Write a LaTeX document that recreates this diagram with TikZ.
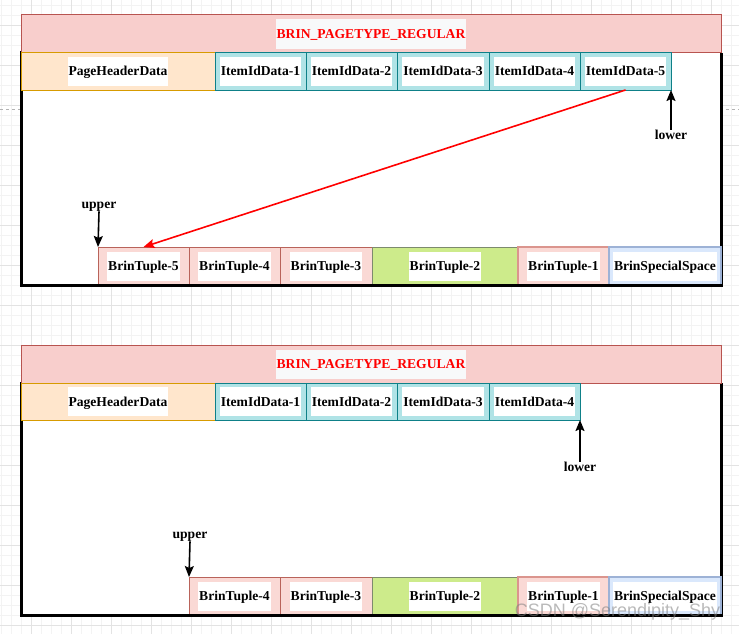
\documentclass[tikz,border=0pt]{standalone}
\usepackage{fontspec}
\setmainfont{Liberation Serif}
\newfontfamily\wmfont{Liberation Sans}
\usetikzlibrary{arrows.meta}
\definecolor{titlefill}{HTML}{F8CECC}
\definecolor{titledraw}{HTML}{B85450}
\definecolor{titlebg}{HTML}{F8F9FA}
\definecolor{hdrfill}{HTML}{FFE6CC}
\definecolor{hdrdraw}{HTML}{D79B00}
\definecolor{itemfill}{HTML}{B0E3E6}
\definecolor{itemdraw}{HTML}{0E8088}
\definecolor{tuplefill}{HTML}{FAD9D5}
\definecolor{tupledraw}{HTML}{B9635A}
\definecolor{tupleonedraw}{HTML}{DB958E}
\definecolor{greenfill}{HTML}{CDEB8B}
\definecolor{greendraw}{HTML}{7D8A6E}
\definecolor{bluefill}{HTML}{DAE8FC}
\definecolor{bluedraw}{HTML}{9DB2D6}
\definecolor{gridminor}{HTML}{F3F3F3}
\definecolor{gridmajor}{HTML}{E3E3E3}
\newcommand{\lbg}[1]{{\setlength{\fboxsep}{1pt}\colorbox{white}{\rule[-9pt]{0pt}{27pt}#1}}}
\newcommand{\tbg}[1]{{\setlength{\fboxsep}{1pt}\colorbox{titlebg}{\rule[-9pt]{0pt}{27pt}#1}}}
\tikzset{
  cell/.style={draw, inner sep=0pt, outer sep=0pt, anchor=north west, line width=1pt,
    font=\fontsize{13.6}{16}\selectfont\bfseries},
  titlecell/.style={cell, fill=titlefill, draw=titledraw, minimum width=700pt, minimum height=38pt, text=red},
  hdrcell/.style={cell, fill=hdrfill, draw=hdrdraw, minimum width=194pt, minimum height=37pt},
  itemcell/.style={cell, fill=itemfill, draw=itemdraw, minimum height=37pt},
  tuplecell/.style={cell, fill=tuplefill, draw=tupledraw, minimum height=38pt},
  tupleone/.style={cell, fill=tuplefill, draw=tupleonedraw, line width=1.5pt, minimum height=38pt},
  greencell/.style={cell, fill=greenfill, draw=greendraw, minimum height=38pt},
  bluecell/.style={cell, fill=bluefill, draw=bluedraw, line width=1.5pt, minimum height=38pt},
  marklbl/.style={inner sep=0pt, font=\fontsize{13.6}{16}\selectfont\bfseries},
  frameline/.style={line width=3pt, black},
  ptrarrow/.style={line width=1.6pt, black, -{Stealth[length=11pt,width=9pt,inset=2pt]}},
  redarrow/.style={line width=1.6pt, red, -{Stealth[length=11pt,width=9pt,inset=2pt]}},
}
\begin{document}
\begin{tikzpicture}[x=1pt,y=-1pt]
\useasboundingbox (0,0) rectangle (739,634);
\fill[white] (0,0) rectangle (739,634);
% grid
\foreach \gx in {1.7,11.7,...,739} \draw[gridminor, line width=0.8pt] (\gx,0) -- (\gx,634);
\foreach \gy in {5,15,...,634} \draw[gridminor, line width=0.8pt] (0,\gy) -- (739,\gy);
\foreach \gx in {31.7,71.7,...,739} \draw[gridmajor, line width=0.8pt] (\gx,0) -- (\gx,634);
\foreach \gy in {25,65,...,634} \draw[gridmajor, line width=0.8pt] (0,\gy) -- (739,\gy);
\draw[gray!60, dashed, line width=0.8pt] (0,109) -- (739,109);

% ================= top diagram =================
\fill[white] (21.5,53) rectangle (721.5,285.5);
\draw[frameline] (21.5,51.5) -- (21.5,287);
\draw[frameline] (721.5,53) -- (721.5,287);
\node[titlecell] (a-title) at (21,15) {\tbg{BRIN\_PAGETYPE\_REGULAR}};
\node[hdrcell] (a-hdr) at (21,53) {\lbg{PageHeaderData}};
\node[itemcell, minimum width=91pt] (a-item1) at (215,53) {\lbg{ItemIdData-1}};
\node[itemcell, minimum width=91pt] (a-item2) at (306,53) {\lbg{ItemIdData-2}};
\node[itemcell, minimum width=92pt] (a-item3) at (397,53) {\lbg{ItemIdData-3}};
\node[itemcell, minimum width=91pt] (a-item4) at (489,53) {\lbg{ItemIdData-4}};
\node[itemcell, minimum width=91pt] (a-item5) at (580,53) {\lbg{ItemIdData-5}};
\node[tuplecell, minimum width=91pt] (a-t5) at (98,247) {\lbg{BrinTuple-5}};
\node[tuplecell, minimum width=91pt] (a-t4) at (189,247) {\lbg{BrinTuple-4}};
\node[tuplecell, minimum width=92pt] (a-t3) at (280,247) {\lbg{BrinTuple-3}};
\node[greencell, minimum width=146pt] (a-t2) at (372,247) {\lbg{BrinTuple-2}};
\node[tupleone, minimum width=91pt] (a-t1) at (518,247) {\lbg{BrinTuple-1}};
\node[bluecell, minimum width=112pt] (a-sp) at (609,247) {\lbg{BrinSpecialSpace}};
\draw[frameline] (20,285.5) -- (723,285.5);
\node[marklbl] (a-lower) at (671,134.5) {lower};
\node[marklbl] (a-upper) at (99,206.5) {upper};
\draw[ptrarrow] (a-lower.north) -- (a-item5.south east);
\draw[ptrarrow] (a-upper.south) -- (a-t5.north west);
\draw[redarrow] (a-item5.south) -- (a-t5.north);

% ================= bottom diagram =================
\fill[white] (21.5,383) rectangle (721.5,615.5);
\draw[frameline] (21.5,381.5) -- (21.5,617);
\draw[frameline] (721.5,383) -- (721.5,617);
\node[titlecell] (b-title) at (21,345) {\tbg{BRIN\_PAGETYPE\_REGULAR}};
\node[hdrcell] (b-hdr) at (21,383) {\lbg{PageHeaderData}};
\node[itemcell, minimum width=91pt] (b-item1) at (215,383) {\lbg{ItemIdData-1}};
\node[itemcell, minimum width=91pt] (b-item2) at (306,383) {\lbg{ItemIdData-2}};
\node[itemcell, minimum width=92pt] (b-item3) at (397,383) {\lbg{ItemIdData-3}};
\node[itemcell, minimum width=91pt] (b-item4) at (489,383) {\lbg{ItemIdData-4}};
\node[tuplecell, minimum width=91pt] (b-t4) at (189,577) {\lbg{BrinTuple-4}};
\node[tuplecell, minimum width=92pt] (b-t3) at (280,577) {\lbg{BrinTuple-3}};
\node[greencell, minimum width=146pt] (b-t2) at (372,577) {\lbg{BrinTuple-2}};
\node[tupleone, minimum width=91pt] (b-t1) at (518,577) {\lbg{BrinTuple-1}};
\node[bluecell, minimum width=112pt] (b-sp) at (609,577) {\lbg{BrinSpecialSpace}};
\draw[frameline] (20,615.5) -- (723,615.5);
\node[marklbl] (b-lower) at (580,466.5) {lower};
\node[marklbl] (b-upper) at (190,536.5) {upper};
\draw[ptrarrow] (b-lower.north) -- (b-item4.south east);
\draw[ptrarrow] (b-upper.south) -- (b-t4.north west);

% watermark
\node[inner sep=0pt, text=gray, opacity=0.55, font=\wmfont\fontsize{18}{20}\selectfont] (wm) at (617.5,612) {CSDN @Serendipity\_Shy};
\end{tikzpicture}
\end{document}
